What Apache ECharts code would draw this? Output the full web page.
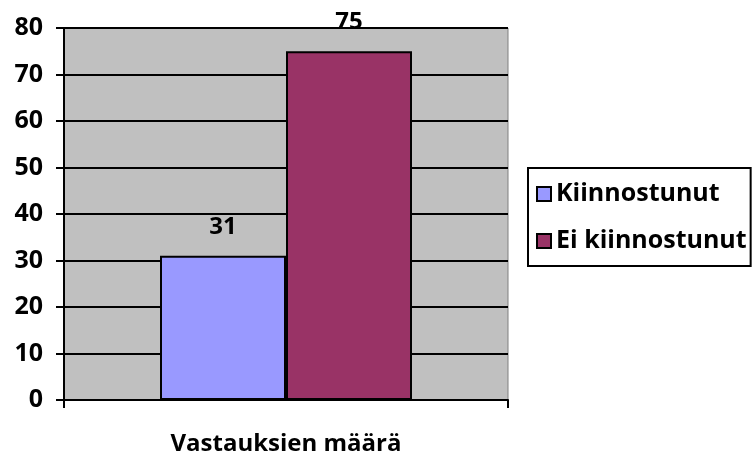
<!DOCTYPE html>
<html>
<head>
<meta charset="utf-8">
<script src="https://cdn.jsdelivr.net/npm/echarts@6/dist/echarts.min.js"></script>
<style>
  html, body { margin: 0; padding: 0; background: #fff; }
  #main { width: 754px; height: 458px; }
</style>
</head>
<body>
<div id="main"></div>
<script>
var categories = ['Vastauksien määrä'];
var seriesNames = ['Kiinnostunut', 'Ei kiinnostunut'];
var kiinnostunut = [31];
var eiKiinnostunut = [75];
var yTicks = { min: 0, max: 80, interval: 10 };

var font = '"Open Sans", sans-serif';
var myChart = echarts.init(document.getElementById('main'));

var option = {
	animation: false,
	backgroundColor: '#ffffff',
	grid: {
		left: 64,
		top: 28,
		right: 246,
		bottom: 58,
		show: true,
		backgroundColor: '#C0C0C0',
		borderColor: '#808080',
		borderWidth: 1
	},
	legend: {
		orient: 'vertical',
		left: 528,
		top: 168,
		padding: [11, 4, 10, 8],
		itemGap: 17,
		itemWidth: 14,
		itemHeight: 14,
		borderColor: '#000',
		borderWidth: 2,
		borderRadius: 0,
		icon: 'rect',
		textStyle: { fontFamily: font, fontWeight: 'bold', fontSize: 25, lineHeight: 30, color: '#000' },
		data: seriesNames
	},
	xAxis: {
		type: 'category',
		data: categories,
		axisLine: { lineStyle: { color: '#000', width: 2 } },
		axisTick: { show: true, length: 8, lineStyle: { color: '#000', width: 2 } },
		axisLabel: { margin: 32, fontFamily: font, fontWeight: 'bold', fontSize: 24, color: '#000' }
	},
	yAxis: {
		type: 'value',
		min: yTicks.min,
		max: yTicks.max,
		interval: yTicks.interval,
		axisLine: { show: true, lineStyle: { color: '#000', width: 2 } },
		axisTick: { show: true, length: 8, lineStyle: { color: '#000', width: 2 } },
		axisLabel: { margin: 21, fontFamily: font, fontWeight: 'bold', fontSize: 25, color: '#000' },
		splitLine: { show: true, lineStyle: { color: '#000', width: 2 } }
	},
	series: [{
		name: seriesNames[0],
		type: 'bar',
		data: kiinnostunut,
		barWidth: 126,
		barGap: '0%',
		itemStyle: { color: '#9999FF', borderColor: '#000', borderWidth: 2 },
		label: { show: true, position: 'top', distance: 17, fontFamily: font, fontWeight: 'bold', fontSize: 24, color: '#000' }
	}, {
		name: seriesNames[1],
		type: 'bar',
		data: eiKiinnostunut,
		barWidth: 126,
		barGap: '0%',
		itemStyle: { color: '#993366', borderColor: '#000', borderWidth: 2 },
		label: { show: true, position: 'top', distance: 17, fontFamily: font, fontWeight: 'bold', fontSize: 24, color: '#000' }
	}]
};
myChart.setOption(option);
</script>
</body>
</html>
